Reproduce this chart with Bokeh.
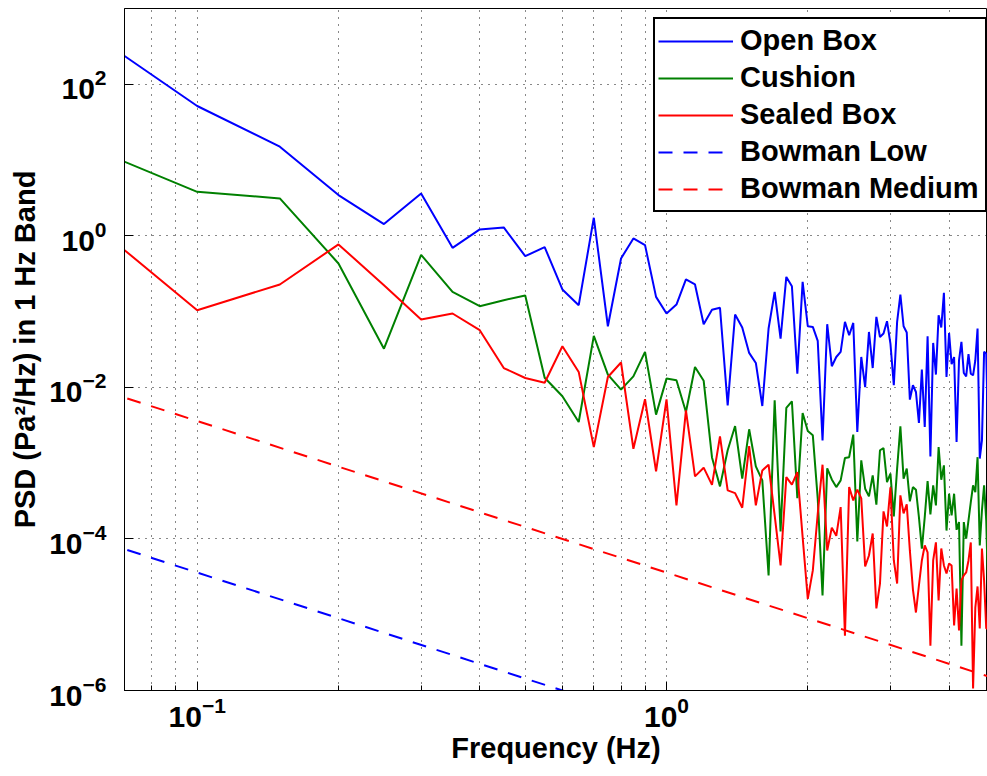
from bokeh.plotting import figure
from bokeh.models import FixedTicker, Legend, LegendItem, Range1d
from bokeh.embed import file_html
from bokeh.resources import INLINE

# ---- data ----
freq = [0.05, 0.10, 0.15, 0.20, 0.25, 0.30, 0.35, 0.40, 0.45, 0.50,
        0.55, 0.60, 0.65, 0.70, 0.75, 0.80, 0.85, 0.90, 0.95, 1.00,
        1.05, 1.10, 1.15, 1.20, 1.25, 1.30, 1.35, 1.40, 1.45, 1.50,
        1.55, 1.60, 1.65, 1.70, 1.75, 1.80, 1.85, 1.90, 1.95, 2.00,
        2.05, 2.10, 2.15, 2.20, 2.25, 2.30, 2.35, 2.40, 2.45, 2.50,
        2.55, 2.60, 2.65, 2.70, 2.75, 2.80, 2.85, 2.90, 2.95, 3.00,
        3.05, 3.10, 3.15, 3.20, 3.25, 3.30, 3.35, 3.40, 3.45, 3.50,
        3.55, 3.60, 3.65, 3.70, 3.75, 3.80, 3.85, 3.90, 3.95, 4.00,
        4.05, 4.10, 4.15, 4.20, 4.25, 4.30, 4.35, 4.40, 4.45, 4.50,
        4.55, 4.60, 4.65, 4.70, 4.75, 4.80, 4.85]

open_box = [990, 51.7, 15.0, 3.45, 1.43, 3.61, 0.694, 1.215, 1.29, 0.539,
            0.709, 0.196, 0.1215, 1.73, 0.0641, 0.503, 0.924, 0.754, 0.1564, 0.0944,
            0.124, 0.2655, 0.228, 0.0682, 0.106, 0.1126, 0.0058, 0.0916, 0.0617, 0.0285,
            0.0210, 0.00568, 0.0598, 0.182, 0.0441, 0.287, 0.2165, 0.0152, 0.2468, 0.0641,
            0.0628, 0.0410, 0.0020, 0.0682, 0.0190, 0.0252, 0.0294, 0.0731, 0.0488, 0.0709,
            0.00258, 0.0252, 0.0101, 0.0539, 0.0180, 0.0851, 0.0463, 0.0514, 0.0747, 0.0379,
            0.01066, 0.0731, 0.168, 0.0641, 0.0530, 0.0069, 0.01066, 0.0087, 0.00339, 0.0172,
            0.0030, 0.0473, 0.00123, 0.0386, 0.01476, 0.0897, 0.0617, 0.1767, 0.01372, 0.0523,
            0.0202, 0.0252, 0.0019, 0.0228, 0.0398, 0.0155, 0.0140, 0.0274, 0.0152, 0.01445,
            0.0228, 0.0598, 0.00115, 0.0020, 0.0294, 0.0280, 0.00172]

cushion = [22.5, 3.81, 3.12, 0.432, 0.0324, 0.561, 0.182, 0.118, 0.1415, 0.163,
           0.0134, 0.00763, 0.00349, 0.0478, 0.01476, 0.00935, 0.0140, 0.0294, 0.00437, 0.01306,
           0.0124, 0.00473, 0.0186, 0.0122, 0.00119, 0.000494, 0.00148, 0.00309, 0.000624, 0.0028,
           0.000907, 0.000593, 0.000033, 0.00676, 0.000126, 0.00535, 0.00655, 0.000346, 0.00459, 0.00265,
           0.00233, 0.00034, 0.0000179, 0.000854, 0.000611, 0.000483, 0.000593, 0.00117, 0.00120, 0.00238,
           0.0000927, 0.00109, 0.00046, 0.000364, 0.00069, 0.000283, 0.00148, 0.00158, 0.000563, 0.000727,
           0.000198, 0.000846, 0.00306, 0.000624, 0.000846, 0.000313, 0.000483, 0.000447, 0.000194, 0.0000743,
           0.000194, 0.00058, 0.000211, 0.000509, 0.000277, 0.00163, 0.000605, 0.000935, 0.000129, 0.000395,
           0.000204, 0.000395, 0.000132, 0.000167, 0.0000039, 0.000167, 0.000101, 0.000176, 0.000306, 0.000509,
           0.000415, 0.00120, 0.000082, 0.000238, 0.000509, 0.000176, 0.0000141]

sealed_box = [3.63, 0.1044, 0.228, 0.770, 0.223, 0.0786, 0.0944, 0.0568, 0.0180, 0.0133,
              0.0115, 0.0349, 0.0160, 0.00163, 0.0137, 0.0213, 0.00155, 0.00697, 0.00078, 0.00693,
              0.000277, 0.00498, 0.00067, 0.000872, 0.000517, 0.00226, 0.000437, 0.000403, 0.000258, 0.00168,
              0.000277, 0.000803, 0.000955, 0.000204, 0.0000447, 0.000655, 0.00052, 0.000763, 0.000106, 0.0000162,
              0.0000384, 0.000215, 0.000955, 0.0000705, 0.000141, 0.00011, 0.000263, 0.0000053, 0.000483, 0.000323,
              0.000447, 0.000343, 0.0000433, 0.0000605, 0.000118, 0.0000121, 0.0000258, 0.000231, 0.000146, 0.000479,
              0.000052, 0.0000258, 0.000376, 0.000217, 0.000286, 0.0000705, 0.0000215, 0.0000107, 0.0000243, 0.000052,
              0.000082, 0.0000663, 0.0000039, 0.000052, 0.000090, 0.0000154, 0.0000749, 0.0000447, 0.000035, 0.0000474,
              0.0000447, 0.0000072, 0.0000222, 0.0000062, 0.0000283, 0.000033, 0.0000361, 0.000052, 0.000090, 0.00000106,
              0.0000124, 0.0000236, 0.0000066, 0.0000749, 0.0000283, 0.0000066, 0.0000066]

bowman_freq = [0.05, 5.0]
bowman_low = [1.44e-4, 1.44e-8]
bowman_medium = [1.44e-2, 1.44e-6]

series_labels = ["Open Box", "Cushion", "Sealed Box", "Bowman Low", "Bowman Medium"]

x_major_ticks = [0.1, 1.0]
x_minor_ticks = [0.08, 0.09, 0.2, 0.3, 0.4, 0.5, 0.6, 0.7, 0.8, 0.9, 2.0, 3.0, 4.0]
y_major_ticks = [1e-6, 1e-4, 1e-2, 1.0, 1e2]

FONT = "Liberation Sans"

p = figure(width=987, height=776, x_axis_type="log", y_axis_type="log",
           x_range=Range1d(0.07, 4.83), y_range=Range1d(1e-6, 1e3),
           output_backend="svg", toolbar_location=None,
           min_border_left=124, min_border_right=0, min_border_top=8, min_border_bottom=86,
           x_axis_label="Frequency (Hz)", y_axis_label="PSD (Pa\u00b2/Hz) in 1 Hz Band")

p.background_fill_color = "white"
p.border_fill_color = "white"
p.outline_line_color = "black"
p.outline_line_alpha = 1.0
p.outline_line_width = 1

xt = FixedTicker(ticks=x_major_ticks, minor_ticks=x_minor_ticks)
yt = FixedTicker(ticks=y_major_ticks, minor_ticks=[])
p.xaxis.ticker = xt
p.yaxis.ticker = yt
p.xgrid.ticker = xt
p.ygrid.ticker = yt

for ax in (p.xaxis[0], p.yaxis[0]):
    ax.major_tick_in = 9
    ax.major_tick_out = 0
    ax.minor_tick_in = 5
    ax.minor_tick_out = 0
    ax.axis_line_color = "black"
    ax.major_tick_line_color = "black"
    ax.minor_tick_line_color = "black"
    ax.major_label_text_font = FONT
    ax.major_label_text_font_size = "30px"
    ax.major_label_text_font_style = "bold"
    ax.major_label_text_color = "black"
    ax.axis_label_text_font = FONT
    ax.axis_label_text_font_size = "29px"
    ax.axis_label_text_font_style = "bold"
    ax.axis_label_text_color = "black"

p.xaxis.major_label_standoff = 6
p.xaxis.axis_label_standoff = 2
p.yaxis.major_label_standoff = 18
p.yaxis.axis_label_standoff = 5

for g in (p.xgrid[0], p.ygrid[0]):
    g.grid_line_color = "#111111"
    g.grid_line_alpha = 1.0
    g.grid_line_dash = "1 6"
    g.grid_line_width = 1
p.xgrid.minor_grid_line_color = "#111111"
p.xgrid.minor_grid_line_alpha = 1.0
p.xgrid.minor_grid_line_dash = "1 6"
p.xgrid.minor_grid_line_width = 1

r1 = p.line(freq, open_box, line_color="#0000ff", line_width=2)
r2 = p.line(freq, cushion, line_color="#008000", line_width=2)
r3 = p.line(freq, sealed_box, line_color="#ff0000", line_width=2)
r4 = p.line(bowman_freq, bowman_low, line_color="#0000ff", line_width=2, line_dash="14 11")
r5 = p.line(bowman_freq, bowman_medium, line_color="#ff0000", line_width=2, line_dash="14 11")

legend = Legend(items=[LegendItem(label=lab, renderers=[r]) for lab, r in
                       zip(series_labels, [r1, r2, r3, r4, r5])],
                location=(529, 478), orientation="vertical")
legend.padding = 3
legend.spacing = 0
legend.glyph_width = 75
legend.glyph_height = 20
legend.label_standoff = 7
legend.label_width = 242
legend.label_height = 37
legend.label_text_font = FONT
legend.label_text_font_size = "29px"
legend.label_text_font_style = "bold"
legend.label_text_color = "black"
legend.border_line_color = "black"
legend.border_line_alpha = 1.0
legend.border_line_width = 2
legend.background_fill_color = "white"
legend.background_fill_alpha = 1.0
legend.margin = 0
p.add_layout(legend)

open("out.html", "w").write(file_html(p, INLINE))
